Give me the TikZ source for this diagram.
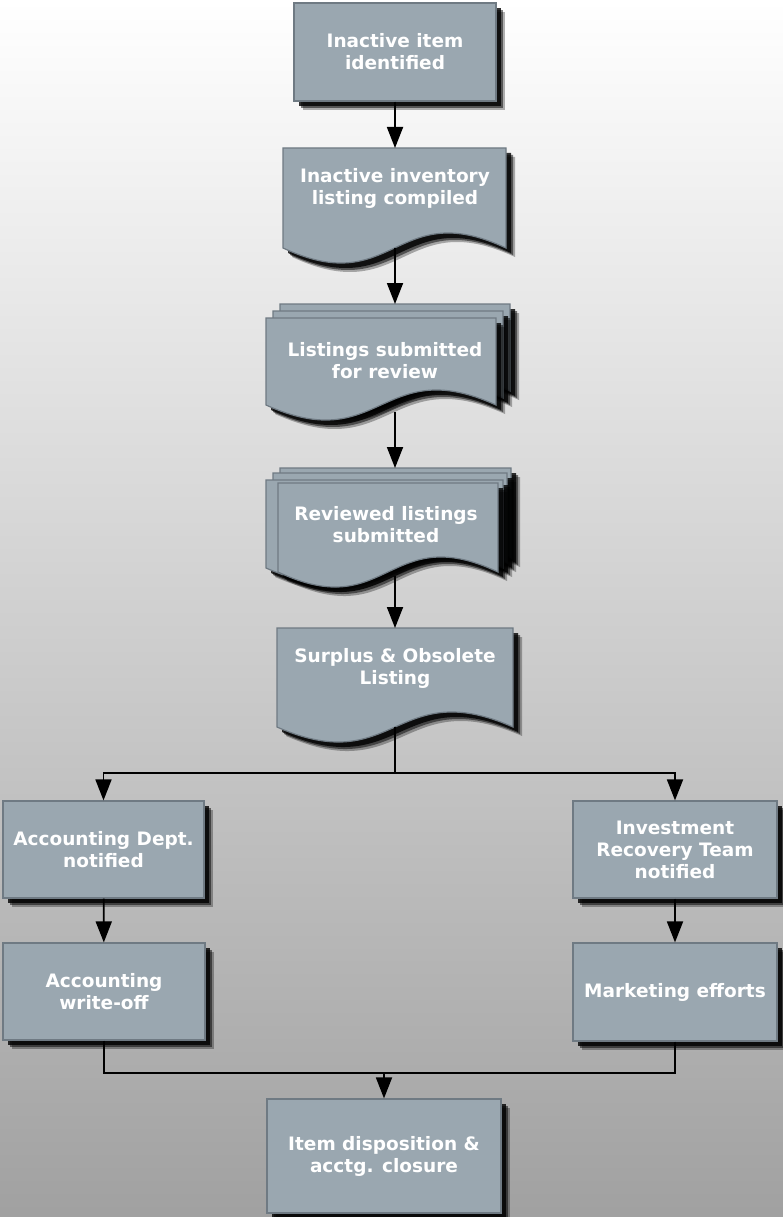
\documentclass[tikz,border=0pt]{standalone}
\usepackage{fontspec}
\setmainfont{DejaVu Sans}
\usetikzlibrary{arrows.meta,shadows}

\definecolor{boxfill}{HTML}{9AA7B0}
\definecolor{boxline}{HTML}{6F7A83}

\tikzset{%
  >={Triangle[length=21pt,width=16pt]},
  boxshadow/.style={
    preaction={fill=black,opacity=0.3,transform canvas={shift={(9pt,-9pt)}}},
    preaction={fill=black,opacity=0.5,transform canvas={shift={(7pt,-7pt)}}},
    preaction={fill=black,opacity=0.8,transform canvas={shift={(5pt,-5pt)}}}},
  boxtext/.style={text=white,font=\bfseries\fontsize{18.5}{22}\selectfont,align=center},
  flowbox/.style={rectangle,draw=boxline,line width=1.2pt,fill=boxfill,boxshadow,boxtext,inner sep=0pt},
  docpage/.style={draw=boxline,line width=1.2pt,fill=boxfill,boxshadow},
  link/.style={line width=1.8pt,->}
}

% one page of a document: left, top, right, bottom of the sides
\newcommand\docpage[4]{%
  \draw[docpage] (#1,#2) -- (#3,#2) -- (#3,#4)
    .. controls ({(#1+#3)/2},{#4-52}) and ({(#1+#3)/2},{#4+52}) .. (#1,#4) -- cycle;
}

\begin{document}
\begin{tikzpicture}[x=1pt,y=-1pt]
  \useasboundingbox (0,0) rectangle (783,1217);
  \shade[top color=white,bottom color=black!37] (0,0) rectangle (783,1217);

  \node[flowbox,minimum width=202pt,minimum height=98pt] (item) at (395,52) {Inactive item\\identified};

  \docpage{283}{148}{506}{248}
  \node[boxtext] (inv) at (395,188) {Inactive inventory\\listing compiled};
  \coordinate (inv-n) at (395,148);
  \coordinate (inv-s) at (395,248);

  \foreach \l/\t/\r/\b in {280/304/510/391, 273/311/503/398, 266/318/496/405}
    { \docpage{\l}{\t}{\r}{\b} }
  \node[boxtext] (sub) at (385,361) {Listings submitted\\for review};
  \coordinate (sub-n) at (395,304);
  \coordinate (sub-s) at (395,412);

  \foreach \l/\t/\r/\b in {280/468/511/558, 273/473/507/563, 266/480/503/568, 278/483/498/572}
    { \docpage{\l}{\t}{\r}{\b} }
  \node[boxtext] (rev) at (386,525) {Reviewed listings\\submitted};
  \coordinate (rev-n) at (395,468);
  \coordinate (rev-s) at (395,576);

  \docpage{277}{628}{513}{727}
  \node[boxtext] (obs) at (395,668) {Surplus \& Obsolete\\Listing};
  \coordinate (obs-n) at (395,628);
  \coordinate (obs-s) at (395,727);

  \node[flowbox,minimum width=201pt,minimum height=97pt] (acct) at (103.5,849.5) {Accounting Dept.\\notified};
  \node[flowbox,minimum width=204pt,minimum height=97pt] (irt) at (675,849.5) {Investment\\Recovery Team\\notified};
  \node[flowbox,minimum width=202pt,minimum height=97pt] (wo) at (104,991.5) {Accounting\\write-off};
  \node[flowbox,minimum width=204pt,minimum height=98pt] (mkt) at (675,992) {Marketing efforts};
  \node[flowbox,minimum width=234pt,minimum height=114pt] (close) at (384,1156) {Item disposition \&\\acctg. closure};

  \coordinate (fork) at (395,773);
  \coordinate (merge) at (384,1073);

  \draw[link] (item) -- (inv-n);
  \draw[link] (inv-s) -- (sub-n);
  \draw[link] (sub-s) -- (rev-n);
  \draw[link] (rev-s) -- (obs-n);
  \draw[link] (obs-s) -- (fork) -| (acct);
  \draw[link] (fork) -| (irt);
  \draw[link] (acct) -- (wo);
  \draw[link] (irt) -- (mkt);
  \draw[line width=1.8pt] (wo) |- (merge);
  \draw[link] (mkt) |- (merge) -- (close);
\end{tikzpicture}
\end{document}
